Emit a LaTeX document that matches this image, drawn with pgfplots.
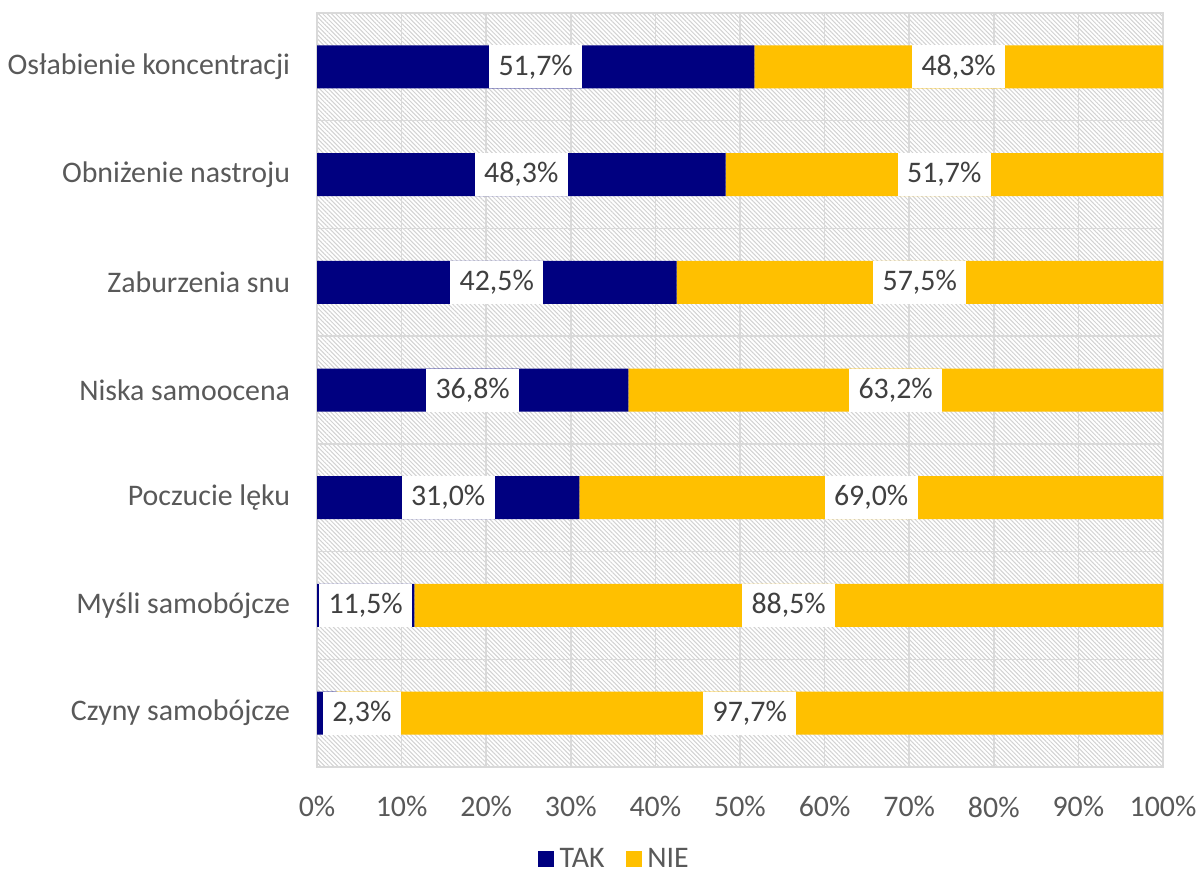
\documentclass[border=0pt]{standalone}
\usepackage{pgfplots}
\pgfplotsset{compat=1.18}
\usepackage{pgfplotstable}
\usetikzlibrary{patterns.meta}
\usepackage{fontspec}
\setmainfont{Carlito}
\definecolor{takc}{HTML}{000080}
\definecolor{niec}{HTML}{FFC000}
\definecolor{gridc}{HTML}{D9D9D9}
\definecolor{labc}{HTML}{595959}
\definecolor{lblc}{HTML}{404040}
\definecolor{hatchc}{HTML}{D2D2D2}
\pgfplotstableread{
y tak nie
0 2.3 97.7
1 11.5 88.5
2 31.0 69.0
3 36.8 63.2
4 42.5 57.5
5 48.3 51.7
6 51.7 48.3
}\data
\newcommand{\bigf}{\fontsize{22.4}{25}\selectfont}
\begin{document}
\begin{tikzpicture}
\path[use as bounding box] (0,0) rectangle (899.25pt,656.25pt);
\begin{axis}[
  at={(237.75pt,81pt)}, anchor=south west,
  scale only axis, width=634.5pt, height=565.5pt,
  xbar stacked, bar width=32.25pt,
  xmin=0, xmax=100, ymin=-0.5, ymax=6.5,
  xtick={0,10,...,100},
  xticklabels={0\%,10\%,20\%,30\%,40\%,50\%,60\%,70\%,80\%,90\%,100\%},
  ytick={0,...,6},
  yticklabels={Czyny samobójcze,Myśli samobójcze,Poczucie lęku,Niska samoocena,Zaburzenia snu,Obniżenie nastroju,Osłabienie koncentracji},
  minor ytick={-0.5,0.5,...,6.5},
  xmajorgrids, yminorgrids,
  grid style={draw=gridc, line width=1.1pt},
  minor grid style={draw=gridc, line width=1.1pt},
  axis line style={draw=gridc, line width=1.1pt},
  major tick length=0pt, minor tick length=0pt,
  tick label style={font=\bigf, text=labc, inner sep=0pt},
  yticklabel style={anchor=east, xshift=-20pt},
  xticklabel style={anchor=north, yshift=-22pt},
  axis background/.style={fill=white, postaction={pattern={Lines[angle=-45,distance=2.3pt,line width=0.75pt]}, pattern color=hatchc}},
  legend style={at={(0.352,-0.122)}, anchor=center, draw=none, fill=none,
    legend columns=-1, font=\bigf, text=labc,
    /tikz/every odd column/.append style={column sep=2pt},
    /tikz/every even column/.append style={column sep=14pt}},
  legend image code/.code={\fill[#1] (0pt,-6pt) rectangle (12pt,6pt);},
]
\addplot[fill=takc, draw=none] table[x=tak, y=y] {\data};
\addlegendentry{TAK}
\addplot[fill=niec, draw=none] table[x=nie, y=y] {\data};
\addlegendentry{NIE}
\end{axis}
\begin{axis}[
  at={(237.75pt,81pt)}, anchor=south west,
  scale only axis, width=634.5pt, height=565.5pt,
  xmin=0, xmax=100, ymin=-0.5, ymax=6.5,
  hide axis, clip=false,
]
\addplot[draw=none, mark=none, point meta=explicit,
  nodes near coords={\pgfmathprintnumber[fixed,fixed zerofill,precision=1,use comma,assume math mode=true]{\pgfplotspointmeta}\%},
  nodes near coords align=center,
  every node near coord/.style={anchor=center, fill=white, text=lblc, font=\bigf, minimum height=32.25pt, inner xsep=7pt, inner ysep=0pt}]
  table[x expr={max(\thisrow{tak}/2,5.3)}, y=y, meta=tak] {\data};
\addplot[draw=none, mark=none, point meta=explicit,
  nodes near coords={\pgfmathprintnumber[fixed,fixed zerofill,precision=1,use comma,assume math mode=true]{\pgfplotspointmeta}\%},
  nodes near coords align=center,
  every node near coord/.style={anchor=center, fill=white, text=lblc, font=\bigf, minimum height=32.25pt, inner xsep=7pt, inner ysep=0pt}]
  table[x expr={\thisrow{tak}+\thisrow{nie}/2}, y=y, meta=nie] {\data};
\end{axis}
\end{tikzpicture}
\end{document}
